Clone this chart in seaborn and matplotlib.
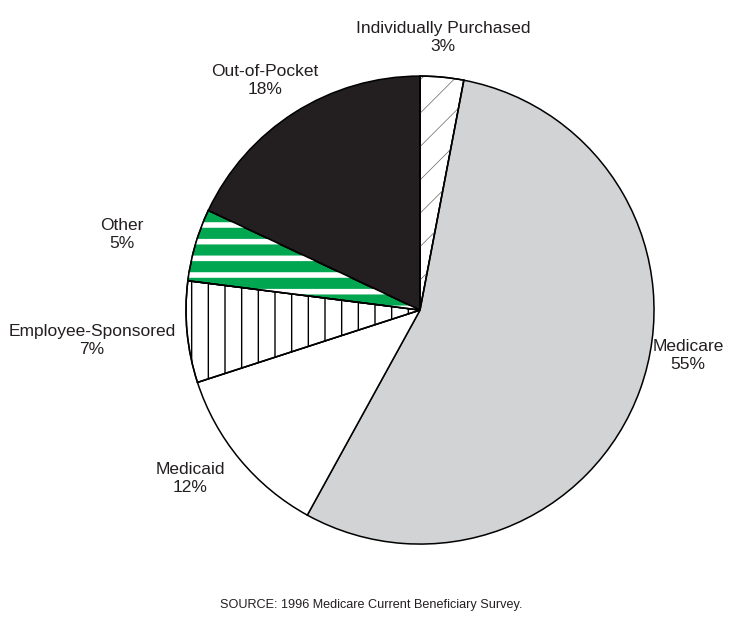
import matplotlib
matplotlib.use("Agg")
import matplotlib.pyplot as plt
from matplotlib.patches import Wedge
import seaborn as sns

# Data (clockwise from 12 o'clock)
sources = ["Individually Purchased", "Medicare", "Medicaid",
           "Employee-Sponsored", "Other", "Out-of-Pocket"]
shares = [3, 55, 12, 7, 5, 18]

# label centres, in units of the pie radius
label_x = [0.098, 1.145, -0.983, -1.402, -1.274, -0.662]
label_y = [1.167, -0.192, -0.718, -0.128, 0.321, 0.983]

face_colors = ["white", "#d1d3d4", "white", "white", "#00a650", "#231f20"]
# (hatch, hatch colour, hatch linewidth) for the patterned slices
hatches = {0: ("/", "#666666", 0.5), 3: ("|", "black", 1.0), 4: ("-", "white", 4.0)}

sns.set_style("white")
plt.rcParams["font.family"] = ["Liberation Sans", "DejaVu Sans"]

fig = plt.figure(figsize=(7.42, 6.26), dpi=100)
ax = fig.add_axes([0, 0, 1, 1])

wedges, _ = ax.pie(shares, startangle=90, counterclock=False, colors=face_colors,
                   wedgeprops=dict(edgecolor="black", linewidth=1.1))

# hatch overlays
for i, (h, hc, hlw) in hatches.items():
    w = wedges[i]
    plt.rcParams["hatch.linewidth"] = hlw
    ov = Wedge(w.center, w.r, w.theta1, w.theta2, facecolor="none",
               edgecolor=hc, linewidth=0, hatch=h, zorder=w.get_zorder() + 0.1)
    if hasattr(ov, "set_hatch_linewidth"):
        ov.set_hatch_linewidth(hlw)
    ax.add_patch(ov)
    # redraw the outline on top
    ax.add_patch(Wedge(w.center, w.r, w.theta1, w.theta2, facecolor="none",
                       edgecolor="black", linewidth=1.1, zorder=w.get_zorder() + 0.2))

for name, pct, x, y in zip(sources, shares, label_x, label_y):
    ax.text(x, y, f"{name}\n{pct}%", ha="center", va="center", fontsize=12.5,
            color="#231f20", linespacing=1.25)

ax.text(-0.209, -1.261, "SOURCE: 1996 Medicare Current Beneficiary Survey.",
        ha="center", va="center", fontsize=9.1, color="#231f20")

ax.set_xlim(-1.795, 1.376)
ax.set_ylim(-1.350, 1.325)
ax.set_aspect("equal")
ax.axis("off")

fig.savefig("out.png", dpi=100)
